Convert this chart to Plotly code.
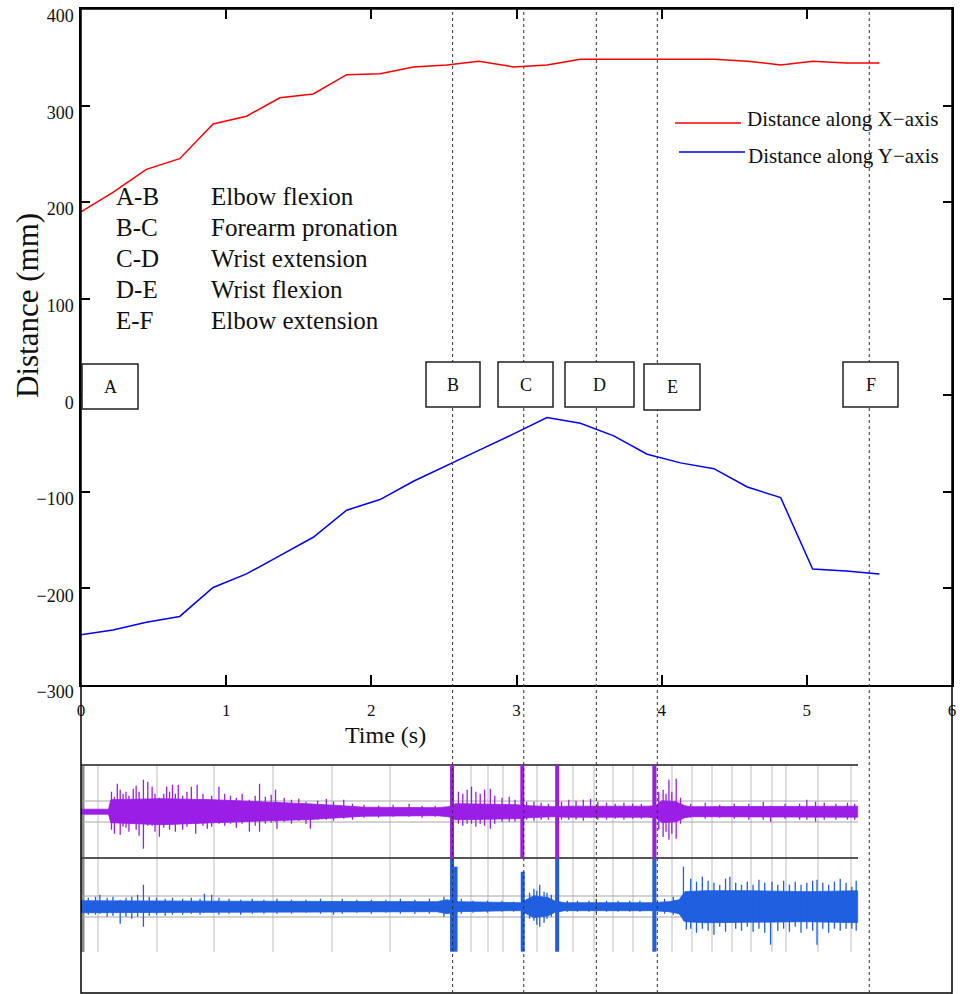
import plotly.graph_objects as go

# ---------------- data ----------------
TIME = [0.00, 0.22, 0.45, 0.68, 0.91, 1.14, 1.37, 1.60, 1.83, 2.06, 2.29, 2.52, 2.74,
        2.98, 3.21, 3.44, 3.67, 3.90, 4.13, 4.36, 4.59, 4.82, 5.04, 5.27, 5.50]
DIST_X = [190, 210, 234, 245, 281, 289, 308, 312, 332, 333, 340, 342, 346,
          340, 342, 348, 348, 348, 348, 348, 346, 342, 346, 344, 344]
DIST_Y = [-248, -243, -235, -229, -199, -185, -166, -147, -119, -108, -89, -73, -57,
          -40, -23, -29, -42, -61, -70, -76, -95, -106, -180, -182, -185]

MARKER_LABELS = ["B", "C", "D", "E", "F"]
MARKER_T = [2.56, 3.05, 3.55, 3.97, 5.43]

PHASES = ["A-B", "B-C", "C-D", "D-E", "E-F"]
MOVEMENTS = ["Elbow flexion", "Forearm pronation", "Wrist extension",
             "Wrist flexion", "Elbow extension"]

Y_TICKS = [-300, -200, -100, 0, 100, 200, 300, 400]
X_TICKS = [0, 1, 2, 3, 4, 5, 6]

# EMG channel 1 (purple): core envelope
EMG1_T = [0.00, 0.19, 0.205, 0.55, 0.90, 1.30, 1.55, 1.80, 1.95, 2.45, 2.53, 2.58, 2.62,
          3.00, 3.08, 3.25, 3.35, 3.90, 3.96, 4.00, 4.10, 4.16, 4.20, 5.35]
EMG1_UP = [2.5, 2.5, 12, 13, 12, 10, 8, 6, 4.5, 4, 5, 8, 8,
           7, 6, 5, 5.5, 5.5, 6, 11, 10, 6, 5, 5.5]
EMG1_DN = [2.5, 2.5, 11, 13, 11, 9, 8, 6, 4.5, 4, 5, 8, 8,
           7, 6, 5, 5.5, 5.5, 6, 11, 10, 6, 5, 5.5]
# EMG channel 1: individual spikes (time, up, down)
SPK1_T = [0.21, 0.23, 0.25, 0.27, 0.29, 0.31, 0.33, 0.36, 0.38, 0.40, 0.43, 0.46, 0.49, 0.51,
          0.54, 0.57, 0.59, 0.61, 0.63, 0.65, 0.67, 0.70, 0.73, 0.76, 0.79, 0.80, 0.84, 0.87,
          0.90, 0.95, 0.99, 1.03, 1.07, 1.11, 1.16, 1.20, 1.23, 1.27, 1.31, 1.34, 1.35, 1.40,
          1.45, 1.50, 1.55, 1.58, 1.63, 1.69, 1.74, 1.81, 1.87, 1.95, 2.05, 2.15, 2.26, 2.35,
          2.44, 2.60, 2.63, 2.66, 2.69, 2.72, 2.75, 2.78, 2.82, 2.85, 2.90, 2.95, 2.99, 3.07,
          3.12, 3.17, 3.22, 3.31, 3.36, 3.41, 3.46, 3.51, 3.56, 3.62, 3.68, 3.74, 3.80, 3.86,
          3.98, 4.01, 4.03, 4.05, 4.07, 4.10, 4.13, 4.20, 4.30, 4.40, 4.50, 4.60, 4.70, 4.75,
          4.85, 4.95, 5.00, 5.06, 5.12, 5.20, 5.28, 5.33]
SPK1_UP = [20, 15, 28, 22, 18, 20, 16, 23, 26, 20, 32, 30, 25, 18,
           14, 18, 25, 20, 27, 18, 27, 16, 20, 25, 12, 27, 18, 12,
           16, 25, 18, 16, 14, 18, 12, 16, 28, 15, 17, 22, 10, 14,
           12, 13, 10, 8, 11, 13, 10, 12, 8, 7, 6, 7, 8, 6,
           6, 20, 18, 22, 25, 20, 18, 22, 23, 16, 14, 15, 12, 10,
           10, 9, 8, 10, 12, 11, 12, 13, 10, 9, 8, 9, 8, 8,
           20, 22, 18, 32, 20, 33, 14, 8, 9, 7, 8, 8, 10, 6,
           8, 8, 12, 10, 9, 8, 9, 8]
SPK1_DN = [18, 22, 10, 23, 15, 16, 20, 12, 18, 24, 37, 14, 14, 20,
           25, 16, 13, 18, 13, 20, 12, 18, 15, 12, 22, 12, 14, 17,
           15, 12, 14, 12, 16, 12, 20, 14, 20, 12, 11, 10, 17, 10,
           12, 9, 12, 17, 8, 8, 9, 7, 8, 6, 6, 5, 5, 6,
           5, 12, 14, 12, 12, 15, 12, 14, 17, 12, 10, 10, 10, 8,
           9, 8, 8, 8, 8, 8, 9, 6, 8, 8, 7, 8, 7, 7,
           18, 25, 20, 28, 22, 27, 12, 6, 7, 6, 7, 8, 8, 10,
           7, 8, 8, 10, 8, 8, 8, 8]
# EMG channel 1: full-height bursts
BURST1_T = [2.556, 3.04, 3.28, 3.95]
BURST1_UP = [46.5, 46.5, 46.5, 46.5]
BURST1_DN = [46.3, 46.3, 46.3, 46.3]

# EMG channel 2 (blue): core envelope
EMG2_T = [0.00, 0.50, 1.00, 2.45, 2.52, 2.60, 2.95, 3.03, 3.08, 3.12, 3.22, 3.26, 3.33,
          3.93, 4.05, 4.12, 4.16, 4.30, 4.60, 5.00, 5.35]
EMG2_UP = [6, 6, 5.5, 5, 7, 5, 4, 4, 8, 11, 9, 6, 4, 4, 5, 7, 15, 16, 16, 15, 16]
EMG2_DN = [6, 6, 5.5, 5, 7, 5, 4, 4, 8, 11, 9, 6, 4, 4, 5, 7, 15, 16, 16, 15, 16]
SPK2_T = [0.05, 0.10, 0.13, 0.18, 0.22, 0.27, 0.31, 0.35, 0.39, 0.43, 0.47, 0.52, 0.58, 0.63,
          0.70, 0.76, 0.82, 0.85, 0.90, 0.95, 1.02, 1.10, 1.18, 1.26, 1.35, 1.45, 1.55, 1.65,
          1.74, 1.80, 1.90, 2.00, 2.10, 2.20, 2.30, 2.40, 2.50, 2.62, 2.70, 2.80, 2.90, 2.98,
          3.09, 3.12, 3.14, 3.16, 3.19, 3.21, 3.24, 3.35, 3.42, 3.50, 3.55, 3.62, 3.70, 3.78,
          3.85, 4.02, 4.08, 4.15, 4.17, 4.20, 4.24, 4.28, 4.32, 4.36, 4.40, 4.44, 4.47, 4.51,
          4.55, 4.59, 4.63, 4.67, 4.71, 4.75, 4.76, 4.80, 4.84, 4.88, 4.92, 4.96, 5.00, 5.04,
          5.07, 5.11, 5.15, 5.19, 5.23, 5.27, 5.31, 5.34]
SPK2_UP = [9, 10, 12, 9, 10, 7, 9, 10, 12, 22, 10, 9, 8, 9,
           8, 9, 8, 13, 12, 9, 8, 7, 8, 7, 8, 7, 7, 8,
           5, 8, 7, 7, 7, 8, 7, 8, 10, 8, 6, 6, 6, 5,
           14, 18, 16, 22, 15, 14, 12, 6, 6, 6, 8, 6, 6, 6,
           6, 8, 10, 40, 14, 28, 25, 30, 26, 24, 22, 28, 30, 24,
           22, 25, 22, 27, 24, 15, 25, 22, 26, 22, 25, 22, 24, 26,
           27, 24, 22, 25, 28, 24, 20, 26]
SPK2_DN = [8, 8, 7, 10, 9, 17, 10, 12, 10, 20, 9, 8, 9, 8,
           8, 7, 8, 6, 6, 8, 7, 8, 7, 7, 7, 7, 6, 7,
           8, 7, 6, 7, 6, 7, 7, 7, 10, 7, 6, 6, 5, 5,
           12, 14, 18, 20, 16, 12, 10, 5, 5, 5, 6, 5, 5, 5,
           5, 7, 8, 14, 23, 22, 26, 22, 24, 28, 20, 25, 15, 22,
           24, 20, 25, 22, 26, 38, 15, 24, 22, 25, 20, 26, 22, 24,
           38, 22, 26, 22, 24, 22, 22, 24]
BURST2_T = [2.556, 2.58, 3.043, 3.28, 3.95]
BURST2_UP = [48, 40, 35, 48, 48]
BURST2_DN = [45, 45, 45, 45, 45]

# ---------------- layout helpers (pixel -> paper) ----------------
W, H = 960, 994
ML, MR, MT, MB = 81, 8, 9, 1
PW, PH = W - ML - MR, H - MT - MB


def PX(px):
    return (px - ML) / PW


def PY(py):
    return (H - MB - py) / PH


TOP_DOM = [PY(685), 1.0]
BOT_DOM = [0.0, PY(685)]
C1 = (H - MB) - 811.7   # purple channel centre in y2 units (1 unit = 1 px)
C2 = (H - MB) - 906.7   # blue channel centre

SERIF = "Liberation Serif, Times New Roman, serif"
PURPLE = "#9B1EE6"
BLUE = "#1F5FE0"

fig = go.Figure()

fig.add_trace(go.Scatter(x=TIME, y=DIST_X, mode="lines", line=dict(color="#FF0000", width=1.5),
                         name="Distance along X\u2212axis", showlegend=False))
fig.add_trace(go.Scatter(x=TIME, y=DIST_Y, mode="lines", line=dict(color="#0000FF", width=1.5),
                         name="Distance along Y\u2212axis", showlegend=False))


def envelope(t, up, dn, c, color):
    xs = list(t) + list(t)[::-1]
    ys = [c + u for u in up] + [c - d for d in dn][::-1]
    return go.Scatter(x=xs, y=ys, xaxis="x", yaxis="y2", mode="lines", fill="toself",
                      fillcolor=color, line=dict(color=color, width=0.8),
                      showlegend=False, hoverinfo="skip")


def spikes(t, up, dn, c, color, width):
    xs, ys = [], []
    for ti, u, d in zip(t, up, dn):
        xs += [ti, ti, None]
        ys += [c + u, c - d, None]
    return go.Scatter(x=xs, y=ys, xaxis="x", yaxis="y2", mode="lines",
                      line=dict(color=color, width=width), showlegend=False, hoverinfo="skip")


fig.add_trace(envelope(EMG1_T, EMG1_UP, EMG1_DN, C1, PURPLE))
fig.add_trace(spikes(SPK1_T, SPK1_UP, SPK1_DN, C1, PURPLE, 1.3))
fig.add_trace(spikes(BURST1_T, BURST1_UP, BURST1_DN, C1, PURPLE, 4))
fig.add_trace(envelope(EMG2_T, EMG2_UP, EMG2_DN, C2, BLUE))
fig.add_trace(spikes(SPK2_T, SPK2_UP, SPK2_DN, C2, BLUE, 1.3))
fig.add_trace(spikes(BURST2_T, BURST2_UP, BURST2_DN, C2, BLUE, 4))

shapes = []
# EMG background grid (vertical light gray lines)
GRID_PX = [98, 157, 214, 273, 332, 390, 471, 488, 503, 537, 557, 573, 594, 613, 633,
           653, 672, 692, 712, 732, 751, 772, 786, 818, 851]
for gx in GRID_PX:
    shapes.append(dict(type="line", xref="paper", yref="paper", x0=PX(gx), x1=PX(gx),
                       y0=PY(952), y1=PY(765), line=dict(color="#D3D3D3", width=1.5), layer="below"))
shapes.append(dict(type="line", xref="paper", yref="paper", x0=PX(83), x1=PX(83),
                   y0=PY(952), y1=PY(765), line=dict(color="#8A8A8A", width=3), layer="below"))
for hy in [801, 822, 896, 917]:
    shapes.append(dict(type="line", xref="paper", yref="paper", x0=PX(81), x1=PX(858),
                       y0=PY(hy), y1=PY(hy), line=dict(color="#A8A8A8", width=1), layer="below"))
for hy in [765, 858]:
    shapes.append(dict(type="line", xref="paper", yref="paper", x0=PX(81), x1=PX(858),
                       y0=PY(hy), y1=PY(hy), line=dict(color="#555555", width=2), layer="below"))

# outer frame of whole figure
shapes.append(dict(type="rect", xref="paper", yref="paper", x0=0, x1=1, y0=0, y1=1,
                   line=dict(color="black", width=1.5)))

# dashed event lines
for t in MARKER_T:
    shapes.append(dict(type="line", xref="x", yref="paper", x0=t, x1=t, y0=0, y1=1,
                       line=dict(color="#333333", width=1, dash="dot")))

# legend samples
shapes.append(dict(type="line", xref="paper", yref="paper", x0=PX(675), x1=PX(741),
                   y0=PY(123), y1=PY(123), line=dict(color="#FF0000", width=1.5)))
shapes.append(dict(type="line", xref="paper", yref="paper", x0=PX(679), x1=PX(745),
                   y0=PY(152), y1=PY(152), line=dict(color="#0000FF", width=1.5)))

annotations = []
annotations.append(dict(xref="paper", yref="paper", x=PX(745), y=PY(119), xanchor="left",
                        yanchor="middle", text="Distance along X\u2212axis", showarrow=False,
                        font=dict(family=SERIF, size=21, color="#111")))
annotations.append(dict(xref="paper", yref="paper", x=PX(746), y=PY(156), xanchor="left",
                        yanchor="middle", text="Distance along Y\u2212axis", showarrow=False,
                        font=dict(family=SERIF, size=21, color="#111")))

# phase list
ROW_PY = [197, 228, 258, 289, 320]
for ph, mv, ry in zip(PHASES, MOVEMENTS, ROW_PY):
    annotations.append(dict(xref="paper", yref="paper", x=PX(114), y=PY(ry), xanchor="left",
                            yanchor="middle", text=ph, showarrow=False,
                            font=dict(family=SERIF, size=25, color="#111")))
    annotations.append(dict(xref="paper", yref="paper", x=PX(209), y=PY(ry), xanchor="left",
                            yanchor="middle", text=mv, showarrow=False,
                            font=dict(family=SERIF, size=25, color="#111")))

# event label boxes (pixel boxes: left, right, top, bottom)
BOX_PX = {"A": (82, 138, 364, 409), "B": (426, 480, 362, 407), "C": (498, 553, 362, 407),
          "D": (565, 634, 362, 407), "E": (644, 700, 364, 410), "F": (843, 898, 362, 407)}
for lab in ["A"] + MARKER_LABELS:
    l, r, tp, bt = BOX_PX[lab]
    shapes.append(dict(type="rect", xref="paper", yref="paper", x0=PX(l), x1=PX(r),
                       y0=PY(bt), y1=PY(tp), line=dict(color="#222", width=1.5),
                       fillcolor="white", layer="above"))
    annotations.append(dict(xref="paper", yref="paper", x=PX((l + r) / 2), y=PY((tp + bt) / 2),
                            xanchor="center", yanchor="middle", text=lab, showarrow=False,
                            font=dict(family=SERIF, size=18, color="#111")))

# axis titles
annotations.append(dict(xref="paper", yref="paper", x=PX(385), y=PY(735), xanchor="center",
                        yanchor="middle", text="Time (s)", showarrow=False,
                        font=dict(family=SERIF, size=24, color="#111")))
annotations.append(dict(xref="paper", yref="paper", x=PX(27), y=PY(306), xanchor="center",
                        yanchor="middle", text="Distance (mm)", textangle=-90, showarrow=False,
                        font=dict(family=SERIF, size=31, color="#111")))

fig.update_layout(
    template=None,
    width=W, height=H,
    margin=dict(l=ML, r=MR, t=MT, b=MB, autoexpand=False),
    paper_bgcolor="white", plot_bgcolor="white",
    showlegend=False,
    shapes=shapes, annotations=annotations,
    xaxis=dict(range=[0, 6], tickvals=X_TICKS, ticktext=[str(v) for v in X_TICKS],
               ticks="inside", ticklen=10, tickwidth=1.5, tickcolor="black",
               showline=True, linecolor="black", linewidth=1.5, mirror="ticks",
               showgrid=False, zeroline=False, anchor="y", ticklabelstandoff=9,
               ticklabeloverflow="allow", automargin=False,
               tickfont=dict(family=SERIF, size=17, color="#111")),
    yaxis=dict(domain=TOP_DOM, range=[-300, 400], tickvals=Y_TICKS,
               ticktext=[str(v).replace("-", "\u2212") for v in Y_TICKS],
               ticks="inside", ticklen=9, tickwidth=1.5, tickcolor="black",
               showline=True, linecolor="black", linewidth=1.5, mirror="ticks",
               showgrid=False, zeroline=False, ticklabelshift=7, ticklabelstandoff=2,
               ticklabeloverflow="allow", automargin=False,
               tickfont=dict(family=SERIF, size=18, color="#111")),
    yaxis2=dict(domain=BOT_DOM, range=[0, PY(685) * PH], showline=False, showgrid=False,
                zeroline=False, showticklabels=False, ticks="", automargin=False),
)

fig.write_html("out.html")
